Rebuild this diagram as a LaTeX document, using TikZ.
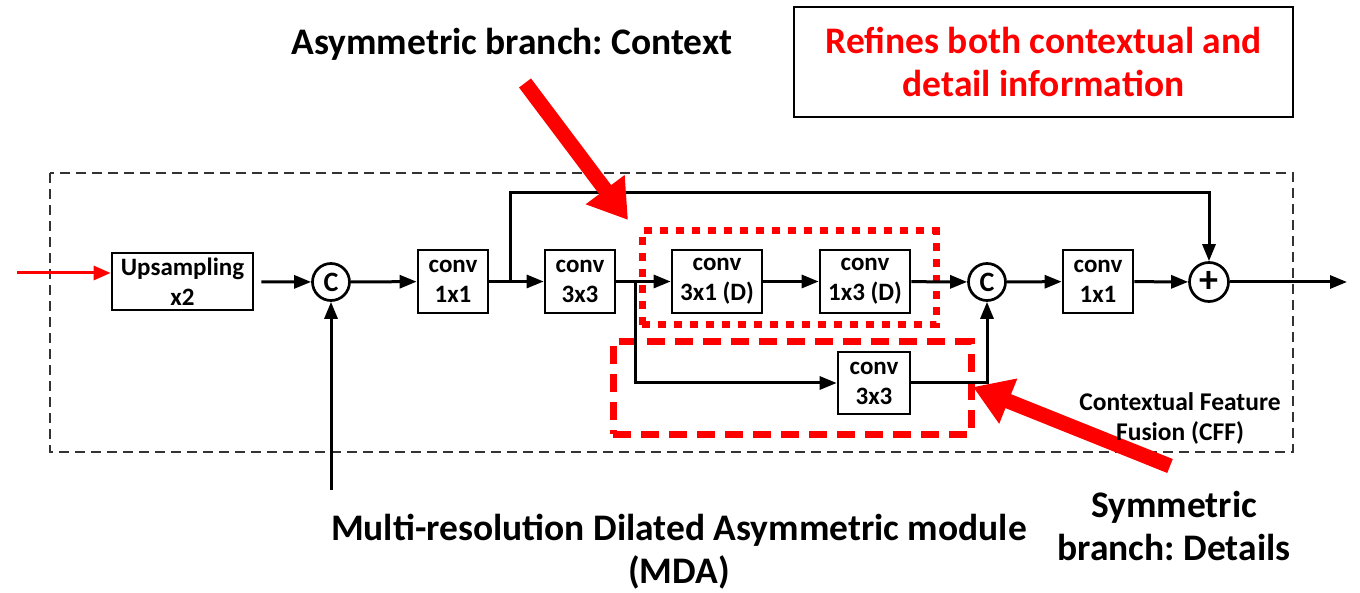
\documentclass[tikz,border=0pt]{standalone}
\usepackage{fontspec}
\setmainfont{Carlito}
\usetikzlibrary{arrows.meta}
\frenchspacing

\begin{document}
\begin{tikzpicture}[x=1pt,y=-1pt]
\useasboundingbox (0,0) rectangle (1360,593);
\draw[line width=1.5pt,dash pattern=on 10pt off 6pt,black!80] (50,173) rectangle (1293,452);
\begin{scope}[every node/.style={rectangle,draw,line width=2.7pt,align=center,inner sep=0pt,
              minimum width=70pt,minimum height=63pt,font=\fontsize{25}{30}\selectfont\bfseries}]
    \node (up) at (182.5,281.5) [minimum width=141pt,minimum height=57pt] {Upsampling\\x2};
    \node (conva) at (453,281.5) {conv\\1x1};
    \node (convb) at (580,281.5) {conv\\3x3};
    \node (convc) at (717,281.5) [minimum width=90pt] {conv\\3x1 (D)};
    \node (convd) at (865,281.5) [minimum width=90pt] {conv\\1x3 (D)};
    \node (conve) at (1098,281.5) {conv\\1x1};
    \node (convs) at (874,383) [minimum width=72pt,minimum height=62pt] {conv\\3x3};
\end{scope}
\begin{scope}[every node/.style={circle,draw,line width=2.7pt,inner sep=0pt,minimum size=37pt,
              font=\fontsize{28}{28}\selectfont\bfseries}]
    \node (c1) at (331,282) {C};
    \node (c2) at (987,282) {C};
    \node (plus) at (1209,282) [minimum size=39pt,font=\fontsize{38}{38}\selectfont\bfseries] {+};
\end{scope}
\begin{scope}[every node/.style={draw=red,line width=7pt,inner sep=0pt}]
    \node (ctx) at (789,278) [minimum width=294pt,minimum height=94pt,dash pattern=on 8pt off 8pt] {};
    \node (det) at (792,388) [minimum width=358pt,minimum height=92pt,dash pattern=on 18pt off 10pt] {};
\end{scope}
\coordinate (in) at (17,273);
\coordinate (out) at (1347,282);
\coordinate (mda) at (331,490);
\coordinate (sp) at (510,282);
\coordinate (top) at (510,193);
\coordinate (br) at (635,282);
\coordinate (ctxtail) at (525,83);
\coordinate (ctxtip) at (628,220);
\coordinate (dettail) at (1170,466);
\coordinate (dettip) at (973,387);
\begin{scope}[every edge/.style={draw=black,line width=3pt,-{Triangle[length=17pt,width=13pt]}},
              vh/.style={to path={|- (\tikztotarget)}},
              hv/.style={to path={-| (\tikztotarget)}}]
    \path (up) edge[shorten <=7pt] (c1);
    \path (c1) edge (conva);
    \path (conva) edge (convb);
    \path (convb) edge (convc);
    \path (convc) edge (convd);
    \path (convd) edge (c2);
    \path (c2) edge (conve);
    \path (conve) edge (plus);
    \path (plus) edge (out);
    \path (mda) edge (c1);
    \path (sp) edge[to path={-- (top) -| (\tikztotarget)}] (plus);
    \path (br) edge[vh] (convs);
    \path (convs) edge[hv] (c2);
    \path (in) edge[draw=red,line width=3pt,-{Triangle[length=17pt,width=14pt]}] (in -| up.west);
\end{scope}
\begin{scope}[every edge/.style={draw=red,line width=15pt,-{Triangle[length=38pt,width=46pt]}}]
    \path (ctxtail) edge (ctxtip);
    \path (dettail) edge (dettip);
\end{scope}
\begin{scope}[every node/.style={align=center,font=\fontsize{37.5}{43}\selectfont\bfseries}]
    \node (lctx) at (512,55) [anchor=base] {Asymmetric branch: Context};
    \node (lmda) at (679,583) [anchor=base] {Multi-resolution Dilated Asymmetric module\\(MDA)};
    \node (ldet) at (1174,560) [anchor=base] {Symmetric\\branch: Details};
    \node (lref) at (1043.5,62) [draw=black,line width=2pt,minimum width=499pt,minimum height=110pt,
        text=red] {Refines both contextual and\\detail information};
    \node (lcff) at (1180,440) [anchor=base,font=\fontsize{25.5}{30}\selectfont\bfseries] {Contextual Feature\\Fusion (CFF)};
\end{scope}
\end{tikzpicture}
\end{document}
